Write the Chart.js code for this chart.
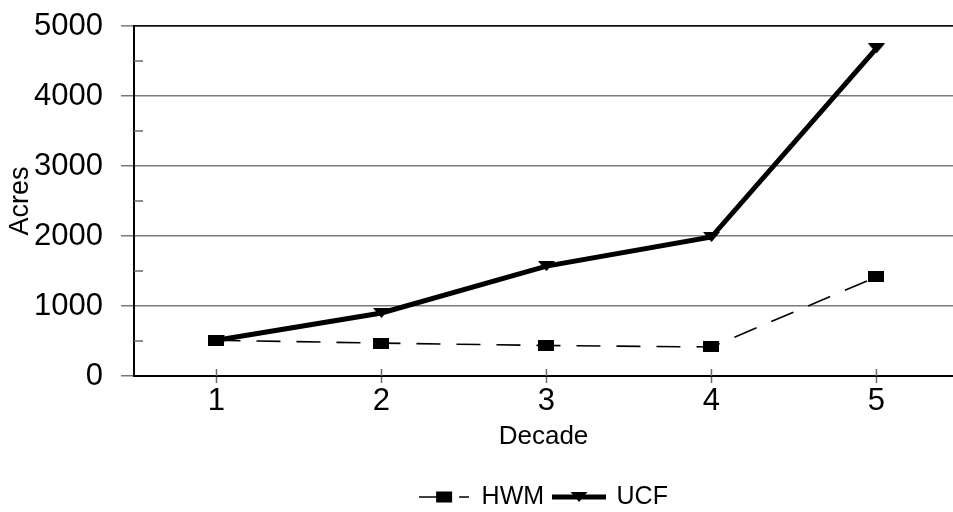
<!DOCTYPE html>
<html>
<head>
<meta charset="utf-8">
<title>Acres by decade</title>
<script src="https://cdn.jsdelivr.net/npm/chart.js@4/dist/chart.umd.min.js"></script>
<style>
  html, body { margin: 0; padding: 0; background: #fff; }
  canvas { display: block; }
</style>
</head>
<body>
<canvas id="chart" width="953" height="512"></canvas>
<script>
// Decades on the horizontal axis and acres for each series
const decades = [1, 2, 3, 4, 5];
const hwmAcres = [510, 470, 435, 415, 1415];
const ucfAcres = [510, 900, 1570, 1985, 4680];
const seriesNames = ['HWM', 'UCF'];
const yMajorStep = 1000;
const yMinorStep = 500;

const FONT = "'Liberation Sans', Arial, Helvetica, sans-serif";
Chart.defaults.font.family = FONT;
Chart.defaults.color = '#000';

// Small canvases used as marker images
function makeMarker(w, h, draw) {
  const c = document.createElement('canvas');
  c.width = w; c.height = h;
  const g = c.getContext('2d');
  g.fillStyle = '#000';
  g.strokeStyle = '#000';
  draw(g, w, h);
  return c;
}
function downTriangle(g, cx, top, w, h) {
  g.beginPath();
  g.moveTo(cx - w / 2, top);
  g.lineTo(cx + w / 2, top);
  g.lineTo(cx, top + h);
  g.closePath();
  g.fill();
}
const squareMark = makeMarker(16, 11, (g, w, h) => g.fillRect(0, 0, w, h));
const triangleMark = makeMarker(17, 10, (g, w, h) => downTriangle(g, w / 2, 0, w, h));
const hwmLegendMark = makeMarker(50, 12, (g, w, h) => {
  g.lineWidth = 1.6;
  g.beginPath();
  g.moveTo(0, h / 2); g.lineTo(17, h / 2);
  g.moveTo(40, h / 2); g.lineTo(50, h / 2);
  g.stroke();
  g.fillRect(17, 0.5, 16, 11);
});
const ucfLegendMark = makeMarker(54, 12, (g, w, h) => {
  g.lineWidth = 5;
  g.beginPath();
  g.moveTo(0, h / 2); g.lineTo(w, h / 2);
  g.stroke();
  downTriangle(g, w / 2, 1, 17, 10);
});
const legendMarks = [hwmLegendMark, ucfLegendMark];

// Short tick marks that cross into the plot area
const innerTicks = {
  id: 'innerTicks',
  afterDatasetsDraw(chart) {
    const { ctx, chartArea, scales } = chart;
    const y = scales.y, x = scales.x;
    ctx.save();
    ctx.strokeStyle = '#6a6a6a';
    ctx.lineWidth = 1.5;
    ctx.beginPath();
    for (let v = yMinorStep; v < y.max; v += yMajorStep) {
      const py = y.getPixelForValue(v);
      ctx.moveTo(chartArea.left, py);
      ctx.lineTo(chartArea.left + 9, py);
    }
    decades.forEach(d => {
      const px = x.getPixelForValue(d);
      ctx.moveTo(px, chartArea.bottom);
      ctx.lineTo(px, chartArea.bottom - 7);
    });
    ctx.stroke();
    ctx.restore();
  }
};

new Chart(document.getElementById('chart'), {
  type: 'line',
  data: {
    datasets: [
      {
        label: seriesNames[0],
        data: decades.map((d, i) => ({ x: d, y: hwmAcres[i] })),
        borderColor: '#000',
        backgroundColor: '#000',
        borderWidth: 1.6,
        borderDash: [24, 16],
        pointStyle: squareMark,
        pointRadius: 6,
        pointHoverRadius: 6,
        pointBorderWidth: 0,
        tension: 0
      },
      {
        label: seriesNames[1],
        data: decades.map((d, i) => ({ x: d, y: ucfAcres[i] })),
        borderColor: '#000',
        backgroundColor: '#000',
        borderWidth: 5,
        pointStyle: triangleMark,
        pointRadius: 6,
        pointHoverRadius: 6,
        pointBorderWidth: 0,
        tension: 0
      }
    ]
  },
  options: {
    responsive: false,
    animation: false,
    events: [],
    layout: { autoPadding: false, padding: { top: 26, right: 0, bottom: -7.5, left: 0 } },
    scales: {
      x: {
        type: 'linear',
        min: 0.5,
        max: 5.464,
        afterBuildTicks(scale) { scale.ticks = decades.map(v => ({ value: v })); },
        afterFit(scale) {
          scale.height = 98.5;
          scale.paddingLeft = 0;
          scale.paddingRight = 0;
        },
        ticks: {
          font: { size: 31 },
          padding: 0,
          maxRotation: 0,
          callback: v => String(v)
        },
        grid: {
          drawOnChartArea: false,
          drawTicks: true,
          tickLength: 7,
          tickColor: '#6a6a6a',
          tickWidth: 1.5
        },
        border: { display: true, color: '#000', width: 2 },
        title: {
          display: true,
          text: 'Decade',
          font: { size: 26 },
          padding: { top: 0, bottom: 22 }
        }
      },
      y: {
        min: 0,
        max: 5000,
        afterFit(scale) {
          scale.width = 134;
          scale.paddingTop = 0;
          scale.paddingBottom = 0;
        },
        ticks: {
          stepSize: yMinorStep,
          font: { size: 31 },
          padding: 18,
          callback: v => (v % yMajorStep === 0 ? String(v) : '')
        },
        grid: {
          tickLength: 13,
          color: ctx => {
            const v = ctx.tick ? ctx.tick.value : 0;
            if (v % yMajorStep !== 0) return 'rgba(0,0,0,0)';
            return v === 5000 ? '#111' : '#7a7a7a';
          },
          lineWidth: ctx => (ctx.tick && ctx.tick.value === 5000 ? 1.8 : 1.5),
          tickColor: '#7a7a7a',
          tickWidth: 1.5
        },
        border: { display: true, color: '#000', width: 2 },
        title: {
          display: true,
          text: 'Acres',
          font: { size: 27 },
          padding: { top: 4, bottom: 0 }
        }
      }
    },
    plugins: {
      tooltip: { enabled: false },
      legend: {
        position: 'bottom',
        fullSize: false,
        labels: {
          font: { size: 25 },
          usePointStyle: true,
          pointStyleWidth: 50,
          padding: 10,
          generateLabels(chart) {
            const items = Chart.defaults.plugins.legend.labels.generateLabels(chart);
            items.forEach((it, i) => { it.pointStyle = legendMarks[i]; });
            return items;
          }
        }
      }
    }
  },
  plugins: [innerTicks]
});
</script>
</body>
</html>
